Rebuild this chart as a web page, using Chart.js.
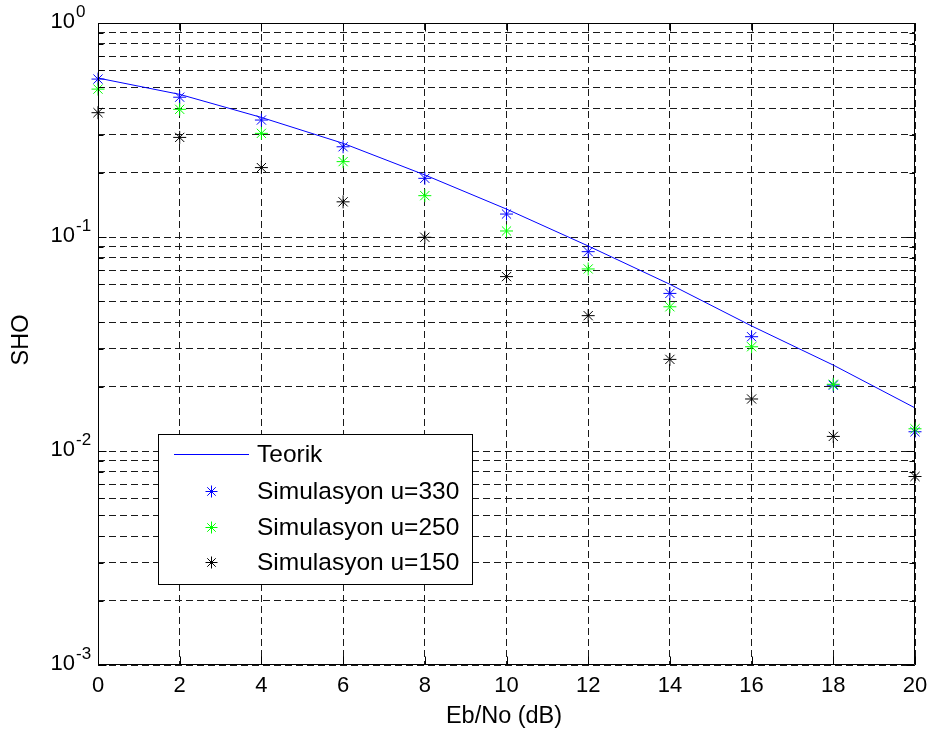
<!DOCTYPE html>
<html><head><meta charset="utf-8">
<script src="https://cdn.jsdelivr.net/npm/chart.js@4/dist/chart.umd.min.js"></script>
<style>html,body{margin:0;padding:0;background:#fff}#wrap{width:930px;height:736px;position:relative}</style>
</head><body><div id="wrap"><canvas id="c"></canvas></div>
<script>
// ---- data ----
const ebNo = [0, 2, 4, 6, 8, 10, 12, 14, 16, 18, 20];
const teorik = [0.553, 0.464, 0.362, 0.274, 0.195, 0.135, 0.0908, 0.0601, 0.0384, 0.0252, 0.0159];
const sim330 = [0.547, 0.450, 0.352, 0.264, 0.188, 0.128, 0.0854, 0.0545, 0.0342, 0.0203, 0.0123];
const sim250 = [0.491, 0.395, 0.305, 0.225, 0.156, 0.1067, 0.0709, 0.0472, 0.0307, 0.0205, 0.0127];
const sim150 = [0.381, 0.292, 0.211, 0.146, 0.0997, 0.0653, 0.0429, 0.0268, 0.0175, 0.0117, 0.0076];
const seriesNames = ['Teorik', 'Simulasyon u=330', 'Simulasyon u=250', 'Simulasyon u=150'];
const xTicks = [0, 2, 4, 6, 8, 10, 12, 14, 16, 18, 20];
const xTickLabels = ['0', '2', '4', '6', '8', '10', '12', '14', '16', '18', '20'];
const yMajorTicks = [0.001, 0.01, 0.1, 1];
const yMajorExponents = ['-3', '-2', '-1', '0'];
const yGridTicks = [0.001, 0.002, 0.003, 0.004, 0.005, 0.006, 0.007, 0.008, 0.009,
  0.01, 0.02, 0.03, 0.04, 0.05, 0.06, 0.07, 0.08, 0.09,
  0.1, 0.2, 0.3, 0.4, 0.5, 0.6, 0.7, 0.8, 0.9, 1];
const xTitle = 'Eb/No (dB)';
const yTitle = 'SHO';

const BLUE = '#0000ff', GREEN = '#00ff00', BLACK = '#000000';
const FONT = '"Liberation Sans", Arial, Helvetica, sans-serif';
const pts = arr => ebNo.map((x, i) => ({ x: x, y: arr[i] }));

function star(ctx, x, y, r, color) {
  ctx.save();
  ctx.strokeStyle = color; ctx.lineWidth = 1;
  ctx.beginPath();
  ctx.moveTo(x - r, y); ctx.lineTo(x + r, y);
  ctx.moveTo(x, y - r); ctx.lineTo(x, y + r);
  const d = r * Math.SQRT1_2;
  ctx.moveTo(x - d, y - d); ctx.lineTo(x + d, y + d);
  ctx.moveTo(x - d, y + d); ctx.lineTo(x + d, y - d);
  ctx.stroke();
  ctx.restore();
}

const decor = {
  id: 'decor',
  afterDraw(chart) {
    const ctx = chart.ctx, a = chart.chartArea;
    const xs = chart.scales.x, ys = chart.scales.y;
    const L = a.left + 0.5, R = a.right - 0.5, T = a.top + 0.5, B = a.bottom - 0.5;
    ctx.save();
    // axis box
    ctx.strokeStyle = '#000'; ctx.lineWidth = 1;
    ctx.beginPath();
    ctx.moveTo(L, T); ctx.lineTo(R, T); ctx.lineTo(R, B); ctx.lineTo(L, B); ctx.closePath();
    ctx.stroke();
    // ticks (inward)
    ctx.beginPath();
    yGridTicks.forEach(v => {
      const py = Math.round(ys.getPixelForValue(v)) + 0.5;
      const len = yMajorTicks.includes(v) ? 8 : 5;
      ctx.moveTo(L, py); ctx.lineTo(L + len, py);
      ctx.moveTo(R, py); ctx.lineTo(R - len, py);
    });
    xTicks.forEach(v => {
      const px = Math.round(xs.getPixelForValue(v)) + 0.5;
      ctx.moveTo(px, B); ctx.lineTo(px, B - 8);
      ctx.moveTo(px, T); ctx.lineTo(px, T + 8);
    });
    ctx.stroke();
    // y tick labels 10^k
    ctx.fillStyle = '#000';
    yMajorTicks.forEach((v, i) => {
      const py = ys.getPixelForValue(v);
      ctx.font = '22px ' + FONT;
      ctx.textAlign = 'right'; ctx.textBaseline = 'middle';
      ctx.fillText('10', 75, py - 1);
      ctx.font = '17px ' + FONT;
      ctx.textAlign = 'left';
      ctx.fillText(yMajorExponents[i], 76, py - 11);
    });
    // x tick labels
    ctx.font = '22px ' + FONT;
    ctx.textAlign = 'center'; ctx.textBaseline = 'middle';
    xTicks.forEach((v, i) => {
      ctx.fillText(xTickLabels[i], xs.getPixelForValue(v), 686);
    });
    // axis titles
    ctx.font = '23.5px ' + FONT;
    ctx.fillText(xTitle, 504, 717);
    ctx.save();
    ctx.translate(22, 340);
    ctx.rotate(-Math.PI / 2);
    ctx.fillText(yTitle, 0, 0);
    ctx.restore();
    // legend
    ctx.fillStyle = '#fff';
    ctx.fillRect(158, 434, 314, 150);
    ctx.strokeStyle = '#000';
    ctx.strokeRect(158.5, 434.5, 314, 150);
    const rows = [454, 491, 527, 562];
    const cols = [BLUE, BLUE, GREEN, BLACK];
    ctx.strokeStyle = BLUE; ctx.lineWidth = 1;
    ctx.beginPath(); ctx.moveTo(174, rows[0] + 0.5); ctx.lineTo(249, rows[0] + 0.5); ctx.stroke();
    for (let i = 1; i < 4; i++) star(ctx, 211.5, rows[i] + 0.5, 6, cols[i]);
    ctx.fillStyle = '#000';
    ctx.font = '24.5px ' + FONT;
    ctx.textAlign = 'left'; ctx.textBaseline = 'middle';
    seriesNames.forEach((n, i) => ctx.fillText(n, 257, rows[i] + 1));
    ctx.restore();
  }
};

new Chart(document.getElementById('c'), {
  type: 'scatter',
  data: {
    datasets: [
      { label: seriesNames[0], data: pts(teorik), showLine: true, borderColor: BLUE, borderWidth: 1,
        pointRadius: 0, tension: 0, order: 3, clip: false },
      { label: seriesNames[1], data: pts(sim330), showLine: false, pointStyle: 'star', pointRadius: 6.5,
        borderColor: BLUE, backgroundColor: BLUE, pointBorderWidth: 1, order: 1, clip: false },
      { label: seriesNames[2], data: pts(sim250), showLine: false, pointStyle: 'star', pointRadius: 6.5,
        borderColor: GREEN, backgroundColor: GREEN, pointBorderWidth: 1, order: 0, clip: false },
      { label: seriesNames[3], data: pts(sim150), showLine: false, pointStyle: 'star', pointRadius: 6.5,
        borderColor: BLACK, backgroundColor: BLACK, pointBorderWidth: 1, order: 2, clip: false }
    ]
  },
  options: {
    responsive: true, maintainAspectRatio: false, animation: false, devicePixelRatio: 1,
    layout: { padding: { left: 0, right: 15, top: 23, bottom: 0 } },
    plugins: { legend: { display: false }, tooltip: { enabled: false } },
    scales: {
      x: {
        type: 'linear', min: 0, max: 20,
        afterBuildTicks: s => { s.ticks = xTicks.map(v => ({ value: v })); },
        afterFit: s => { s.height = 71; },
        ticks: { display: false, autoSkip: false },
        grid: { color: '#1a1a1a', lineWidth: 1, drawTicks: false },
        border: { display: false, dash: [7, 4] }
      },
      y: {
        type: 'logarithmic', min: 0.001, max: 1,
        afterBuildTicks: s => { s.ticks = yGridTicks.map(v => ({ value: v })); },
        afterFit: s => { s.width = 98; },
        ticks: { display: false, autoSkip: false },
        grid: { color: '#1a1a1a', lineWidth: 1, drawTicks: false },
        border: { display: false, dash: [7, 4] }
      }
    }
  },
  plugins: [decor]
});
</script></body></html>
